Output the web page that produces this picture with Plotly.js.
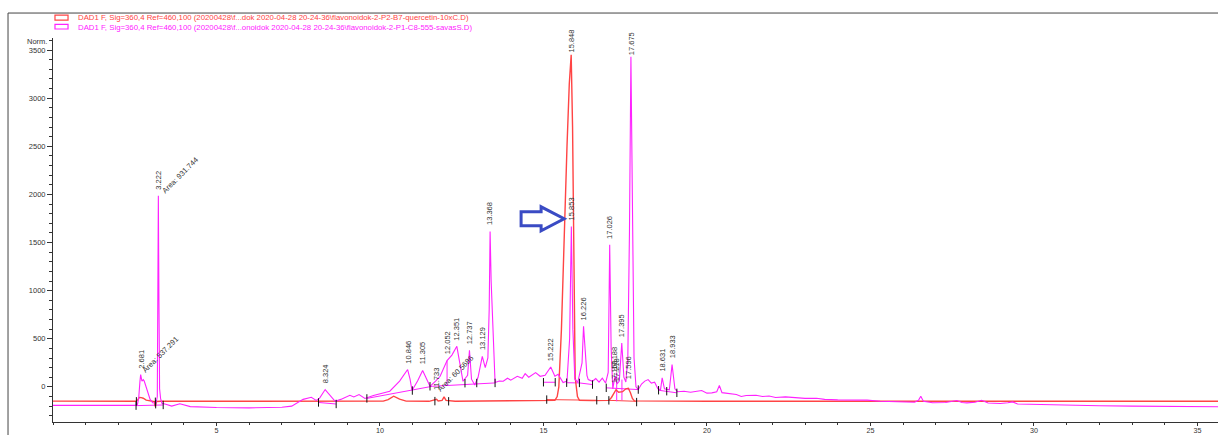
<!DOCTYPE html>
<html>
<head>
<meta charset="utf-8">
<script src="https://cdn.plot.ly/plotly-3.0.1.min.js"></script>
<style>
  html, body { margin: 0; padding: 0; background: #fff; }
  #chart { width: 1218px; height: 435px; }
</style>
</head>
<body>
<div id="chart"></div>
<script>
// Reference standard (quercetin) signal: retention time [min] / response [Norm.]
const refTime = [0.00, 2.00, 2.55, 2.60, 2.64, 2.70, 2.76, 2.85, 3.00, 3.10, 3.13, 3.16, 3.30, 5.00, 7.00, 9.00,
  10.10, 10.25, 10.42, 10.60, 10.80, 11.50, 11.65, 11.733, 11.78, 11.90, 11.96, 12.02, 12.30, 13.50, 14.50, 15.00,
  15.35, 15.42, 15.47, 15.55, 15.64, 15.72, 15.79, 15.848, 15.89, 15.93, 15.97, 16.04, 16.10, 16.50, 17.00, 17.08,
  17.159, 17.218, 17.30, 17.42, 17.52, 17.596, 17.66, 17.72, 17.78, 18.50, 20.00, 25.00, 30.00, 35.63];
const refValue = [-148, -150, -150, -130, -110, -112, -118, -138, -150, -152, -205, -152, -150, -150, -152, -150,
  -148, -132, -97, -128, -148, -150, -142, -130, -146, -140, -104, -140, -150, -148, -146, -142,
  -140, -100, 0, 600, 1666, 2500, 3150, 3450, 2700, 1400, 100, -100, -140, -143, -140, -110,
  -60, -30, -55, -50, -20, -15, -60, -120, -145, -148, -150, -150, -150, -150];

// Extract sample signal
const sampleTime = [0.00, 1.00, 2.00, 2.50, 2.58, 2.62, 2.66, 2.681, 2.72, 2.76, 2.79, 2.84, 2.90, 2.97, 3.05,
  3.15, 3.19, 3.21, 3.222, 3.24, 3.26, 3.29, 3.33, 3.45, 3.63, 3.88, 4.20, 5.00, 6.00, 7.00, 7.30, 7.65, 7.90,
  8.05, 8.15, 8.324, 8.50, 8.63, 8.80, 9.08, 9.20, 9.36, 9.54, 9.80, 10.30, 10.60, 10.846, 10.92, 10.98, 11.15,
  11.305, 11.42, 11.53, 11.70, 11.84, 12.052, 12.20, 12.351, 12.45, 12.54, 12.68, 12.737, 12.80, 12.90, 13.00,
  13.129, 13.22, 13.30, 13.34, 13.368, 13.40, 13.44, 13.49, 13.52, 13.65, 13.77, 13.90, 14.00, 14.20, 14.35,
  14.44, 14.55, 14.76, 14.90, 15.05, 15.222, 15.35, 15.45, 15.60, 15.72, 15.80, 15.853, 15.90, 15.96, 16.05,
  16.18, 16.226, 16.28, 16.33, 16.37, 16.50, 16.60, 16.70, 16.80, 16.90, 16.98, 17.026, 17.07, 17.12, 17.188,
  17.25, 17.32, 17.395, 17.46, 17.52, 17.58, 17.63, 17.675, 17.72, 17.77, 17.83, 17.90, 18.00, 18.10, 18.20,
  18.30, 18.40, 18.50, 18.58, 18.631, 18.70, 18.85, 18.933, 19.02, 19.10, 19.30, 19.50, 19.84, 20.00, 20.15,
  20.30, 20.38, 20.46, 20.70, 20.90, 21.05, 21.20, 21.50, 21.70, 21.90, 22.10, 22.40, 22.70, 23.00, 23.35,
  23.60, 24.00, 24.50, 24.90, 25.30, 25.90, 26.35, 26.47, 26.54, 26.62, 26.90, 27.30, 27.64, 27.80, 27.95,
  28.20, 28.40, 28.60, 28.97, 29.20, 29.35, 29.50, 30.00, 31.00, 32.00, 33.00, 34.00, 35.00, 35.63];
const sampleValue = [-192, -193, -195, -192, -185, -120, 60, 128, 60, 75, 60, 0, -60, -130, -165,
  -170, -100, 800, 1985, 900, -20, -120, -170, -180, -200, -176, -205, -215, -218, -212, -200, -130, -108,
  -140, -120, -28, -100, -150, -130, -87, -105, -80, -120, -90, -45, 60, 180, 80, -38, 60,
  170, 80, 6, 60, 110, 273, 330, 421, 250, 58, 120, 380, 80, 20, 100,
  318, 200, 300, 800, 1615, 1100, 700, 200, 45, 60, 58, 90, 70, 110, 90,
  138, 100, 148, 110, 120, 207, 110, 130, 45, 60, 500, 1666, 600, 80, 48,
  250, 629, 300, 120, 76, 58, 86, 50, 90, 40, 150, 1477, 400, -20, 110,
  30, 60, 456, 100, 50, 300, 1600, 3430, 1600, 300, 0, -28, 30, 60, 76,
  40, 48, -20, -30, 93, -20, -30, 231, -20, -50, -45, -55, -38, -65, -62,
  -50, 14, -60, -70, -80, -100, -90, -87, -100, -95, -110, -104, -115, -120, -118,
  -130, -135, -140, -138, -150, -160, -160, -140, -97, -150, -165, -162, -142, -163, -166,
  -160, -139, -168, -173, -165, -156, -178, -183, -190, -196, -200, -203, -206, -207];

// Integration baselines and drop lines (null separates segments)
const sampleBaseTime = [2.54, 3.37, null, 8.12, 8.66, null, 9.60, 11.60, 13.52, null, 12.052, 12.052, null,
  15.00, 15.36, null, 15.71, 16.10, 16.50, null, 16.92, 17.90, null, 17.24, 17.24, null, 17.40, 17.40, null, 18.52, 19.08];
const sampleBaseValue = [-195, -188, null, -162, -178, null, -120, 6, 41, null, 273, 20, null,
  48, 48, null, 43, 41, 24, null, -10, -28, null, 150, -150, null, 76, -140, null, -35, -62];
const refBaseTime = [15.10, 16.63, null, 17.00, 17.85];
const refBaseValue = [-132, -139, null, -140, -150];

// Peak start/stop cut marks
const sampleCutTime = [2.54, 3.14, 3.37, 8.12, 8.66, 9.60, 10.99, 11.53, 12.60, 12.96, 13.52, 15.00, 15.36,
  15.71, 16.10, 16.50, 16.92, 17.90, 18.52, 18.77, 19.08];
const sampleCutValue = [-195, -180, -188, -162, -178, -120, -38, 6, 38, 40, 41, 48, 48,
  43, 41, 24, -10, -28, -35, -45, -62];
const refCutTime = [2.55, 3.13, 11.68, 12.10, 15.10, 16.63, 17.00, 17.85];
const refCutValue = [-150, -155, -148, -150, -132, -139, -140, -158];

// Retention-time labels (each sits at the peak of the same time in its series)
const refPeakLabels = ['11.733', '15.848', '17.159', '17.218', '17.596'];
const samplePeakLabels = ['2.681', '3.222', '8.324', '10.846', '11.305', '12.052', '12.351', '12.737',
  '13.129', '13.368', '15.222', '15.853', '16.226', '17.026', '17.188', '17.395', '17.675', '18.631', '18.933'];

// Area labels
const areaLabels = ['Area: 537.291', 'Area: 931.744', 'Area: 60.5686'];
const areaTimes = [3.288, 3.885, 12.313];
const areaValues = [335, 2193, 138];

// Axis ticks
const xTickVals = [5, 10, 15, 20, 25, 30, 35];
const xTickText = ['5', '10', '15', '20', '25', '30', '35'];
const yTickVals = [0, 500, 1000, 1500, 2000, 2500, 3000, 3500];
const yTickText = ['0', '500', '1000', '1500', '2000', '2500', '3000', '3500'];

const refName = 'DAD1 F, Sig=360,4 Ref=460,100 (20200428\\f...dok 2020-04-28 20-24-36\\flavonoidok-2-P2-B7-quercetin-10xC.D)';
const sampleName = 'DAD1 F, Sig=360,4 Ref=460,100 (20200428\\f...onoidok 2020-04-28 20-24-36\\flavonoidok-2-P1-C8-555-savasS.D)';

const RED = '#ff4444';
const MAGENTA = '#ff22ff';
const FONT = '"Liberation Sans", Arial, sans-serif';
const INK = '#333333';

function valueAt(times, values, label) {
  const i = times.indexOf(Number(label));
  return values[i];
}

const traces = [
  { x: refBaseTime, y: refBaseValue, mode: 'lines', line: { color: RED, width: 1 }, connectgaps: false, showlegend: false },
  { x: sampleBaseTime, y: sampleBaseValue, mode: 'lines', line: { color: MAGENTA, width: 1 }, connectgaps: false, showlegend: false },
  { x: refTime, y: refValue, mode: 'lines', name: refName, line: { color: RED, width: 1.4 }, showlegend: false },
  { x: sampleTime, y: sampleValue, mode: 'lines', name: sampleName, line: { color: MAGENTA, width: 1.1 }, showlegend: false },
  { x: refCutTime.concat(sampleCutTime), y: refCutValue.concat(sampleCutValue), mode: 'markers',
    marker: { symbol: 'line-ns', size: 6, line: { color: '#111', width: 1 } }, showlegend: false }
];

const annotations = [];
function addPeakLabels(labels, times, values, shift) {
  labels.forEach(function (lab) {
    const v = valueAt(times, values, lab);
    annotations.push({
      x: Number(lab), y: v, xref: 'x', yref: 'y', text: lab, textangle: -90,
      showarrow: false, xanchor: 'center', yanchor: 'bottom',
      yshift: v > 3000 ? 0 : shift,
      font: { family: FONT, size: 7.5, color: INK }
    });
  });
}
addPeakLabels(samplePeakLabels, sampleTime, sampleValue, 4);
addPeakLabels(refPeakLabels, refTime, refValue, 7);

areaLabels.forEach(function (lab, i) {
  annotations.push({
    x: areaTimes[i], y: areaValues[i], xref: 'x', yref: 'y', text: lab, textangle: -45,
    showarrow: false, xanchor: 'center', yanchor: 'middle',
    font: { family: FONT, size: 7.5, color: INK }
  });
});

// Legend lines
[[refName, RED, 1.0533], [sampleName, MAGENTA, 1.0286]].forEach(function (e) {
  annotations.push({
    x: 0.0197, y: e[2], xref: 'paper', yref: 'paper', text: e[0], showarrow: false,
    xanchor: 'left', yanchor: 'middle', font: { family: FONT, size: 7.8, color: e[1] }
  });
});

annotations.push({
  x: -0.0135, y: 0.9896, xref: 'paper', yref: 'paper', text: 'Norm.', showarrow: false,
  xanchor: 'center', yanchor: 'middle', font: { family: FONT, size: 7.5, color: INK }
});

const shapes = [
  // frame
  { type: 'line', xref: 'paper', yref: 'paper', x0: -0.0386, x1: 1.01, y0: 1.065, y1: 1.065, line: { color: '#444', width: 1 } },
  { type: 'line', xref: 'paper', yref: 'paper', x0: -0.0386, x1: -0.0386, y0: 1.065, y1: -0.05, line: { color: '#444', width: 1 } },
  // legend keys
  { type: 'rect', xref: 'paper', yref: 'paper', x0: 0.0017, x1: 0.0129, y0: 1.0468, y1: 1.0598, line: { color: RED, width: 1.2 }, fillcolor: '#fff' },
  { type: 'rect', xref: 'paper', yref: 'paper', x0: 0.0017, x1: 0.0129, y0: 1.0234, y1: 1.0356, line: { color: MAGENTA, width: 1.2 }, fillcolor: '#fff' },
  // pointer arrow
  { type: 'path', xref: 'x', yref: 'y',
    path: 'M 14.316,1819 L 14.928,1819 L 14.928,1871 L 15.632,1747 L 14.928,1622 L 14.928,1674 L 14.316,1674 Z',
    line: { color: '#3a4bc4', width: 3 }, fillcolor: '#ffffff' }
];

const layout = {
  width: 1218, height: 435, autosize: false,
  margin: { l: 53, r: 0, t: 38, b: 12.5, pad: 0 },
  paper_bgcolor: '#fff', plot_bgcolor: '#fff',
  showlegend: false, hovermode: false,
  font: { family: FONT, size: 7.5, color: INK },
  xaxis: {
    range: [0, 35.63], showgrid: false, zeroline: false,
    showline: true, linecolor: '#333', linewidth: 1,
    tickmode: 'array', tickvals: xTickVals, ticktext: xTickText,
    ticks: 'outside', ticklen: 3, tickcolor: '#333', tickwidth: 1,
    ticklabelstandoff: -2,
    tickfont: { family: FONT, size: 7.2, color: INK },
    minor: { tickmode: 'linear', tick0: 0, dtick: 1, ticks: 'outside', ticklen: 2, tickcolor: '#333' }
  },
  yaxis: {
    range: [-365, 3625], showgrid: false, zeroline: false,
    showline: true, linecolor: '#333', linewidth: 1,
    tickmode: 'array', tickvals: yTickVals, ticktext: yTickText,
    ticks: 'outside', ticklen: 5, tickcolor: '#333', tickwidth: 1,
    tickfont: { family: FONT, size: 7.5, color: INK },
    minor: { tickmode: 'linear', tick0: 0, dtick: 100, ticks: 'outside', ticklen: 3, tickcolor: '#333' }
  },
  annotations: annotations,
  shapes: shapes
};

Plotly.newPlot('chart', traces, layout, { staticPlot: true, displayModeBar: false });
</script>
</body>
</html>
